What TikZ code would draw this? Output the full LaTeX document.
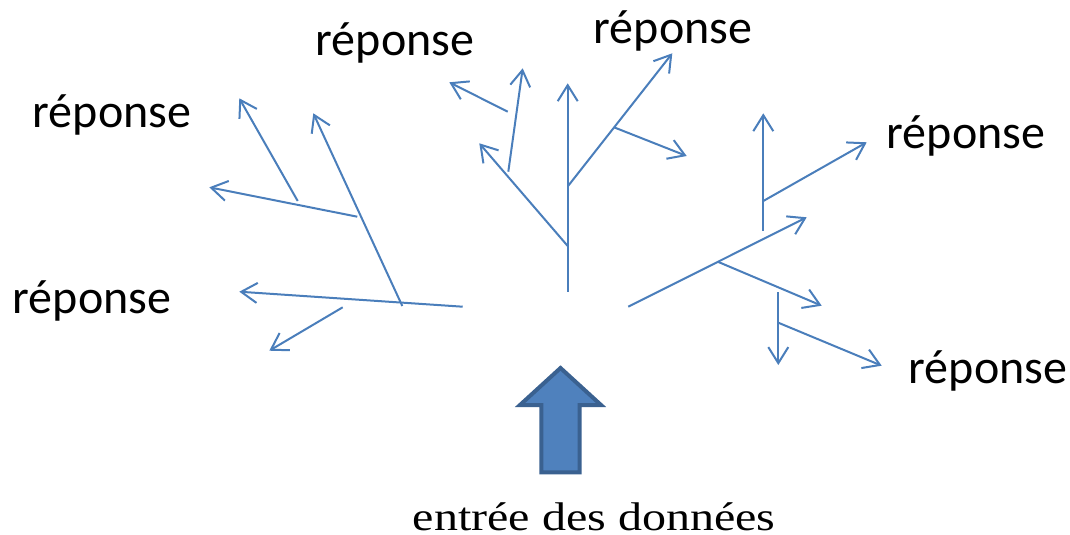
\documentclass[tikz,border=0pt]{standalone}
\usepackage{fontspec}
\setmainfont{Liberation Serif}
\newfontfamily\labelfont{Carlito}
\newfontfamily\entfont[FakeStretch=1.2]{Liberation Serif}
\usetikzlibrary{arrows.meta}
\definecolor{linecol}{HTML}{4A7EBB}
\definecolor{arrfill}{HTML}{4F81BD}
\definecolor{arrdraw}{HTML}{3A6190}
\tikzset{
  br/.style={draw=linecol, line width=1.5pt},
  tip/.style={br, -{Straight Barb[length=12pt,width=15pt]}},
  rep/.style={font=\labelfont\fontsize{36}{40}\selectfont, inner sep=0pt, anchor=center},
}
\begin{document}
\begin{tikzpicture}[x=0.75pt,y=-0.75pt]
\useasboundingbox (0,0) rectangle (1070,535);
% labels
\node[rep] (r1) at (395,43) {réponse};
\node[rep] (r2) at (673,31) {réponse};
\node[rep] (r3) at (112,115) {réponse};
\node[rep] (r4) at (966,136) {réponse};
\node[rep] (r5) at (92,301) {réponse};
\node[rep] (r6) at (988,371) {réponse};
\node[font=\entfont\fontsize{30}{34}\selectfont, inner sep=0pt, anchor=base] (entree) at (594,530) {entrée des données};
% left cluster
\coordinate (L0) at (462.7,306.7);
\coordinate (L0t) at (239.3,291.7);
\coordinate (L1) at (402.3,306);
\coordinate (L1t) at (313.3,113.3);
\coordinate (L2) at (357.3,216.7);
\coordinate (L2t) at (209.3,187.3);
\coordinate (L3) at (297.7,201);
\coordinate (L3t) at (239.3,98.3);
\coordinate (L4) at (342.7,307.3);
\coordinate (L4t) at (269.3,350.7);
\draw[tip] (L0) -- (L0t);
\draw[tip] (L1) -- (L1t);
\draw[tip] (L2) -- (L2t);
\draw[tip] (L3) -- (L3t);
\draw[tip] (L4) -- (L4t);
% middle cluster
\coordinate (M0) at (567.7,291.7);
\coordinate (M0t) at (567.7,83.3);
\coordinate (M1) at (567.7,246);
\coordinate (M1t) at (479.3,143.3);
\coordinate (M2) at (508.3,171.7);
\coordinate (M2t) at (522.7,68.3);
\coordinate (M3) at (507.7,111.7);
\coordinate (M3t) at (449.3,82.3);
\coordinate (M4) at (568.3,185.7);
\coordinate (M4t) at (672.3,53.3);
\coordinate (M5) at (614,127.3);
\coordinate (M5t) at (686.7,156);
\draw[tip] (M0) -- (M0t);
\draw[tip] (M1) -- (M1t);
\draw[tip] (M2) -- (M2t);
\draw[tip] (M3) -- (M3t);
\draw[tip] (M4) -- (M4t);
\draw[tip] (M5) -- (M5t);
% right cluster
\coordinate (R0) at (763.3,231);
\coordinate (R0t) at (763.3,113.3);
\coordinate (R1) at (763.3,201);
\coordinate (R1t) at (866.7,142.3);
\coordinate (R2) at (628.3,306.7);
\coordinate (R2t) at (806.7,217.3);
\coordinate (R3) at (717.7,261.7);
\coordinate (R3t) at (821.7,305.7);
\coordinate (R4) at (778.3,292.3);
\coordinate (R4t) at (778.3,365);
\coordinate (R5) at (778.3,322.7);
\coordinate (R5t) at (881.7,365.7);
\draw[tip] (R0) -- (R0t);
\draw[tip] (R1) -- (R1t);
\draw[tip] (R2) -- (R2t);
\draw[tip] (R3) -- (R3t);
\draw[tip] (R4) -- (R4t);
\draw[tip] (R5) -- (R5t);
% big input arrow
\draw[fill=arrfill, draw=arrdraw, line width=3pt, line join=miter]
  (560.5,368) -- (601,405) -- (579.7,405) -- (579.7,472.3) -- (541.3,472.3)
  -- (541.3,405) -- (520,405) -- cycle;
\end{tikzpicture}
\end{document}
